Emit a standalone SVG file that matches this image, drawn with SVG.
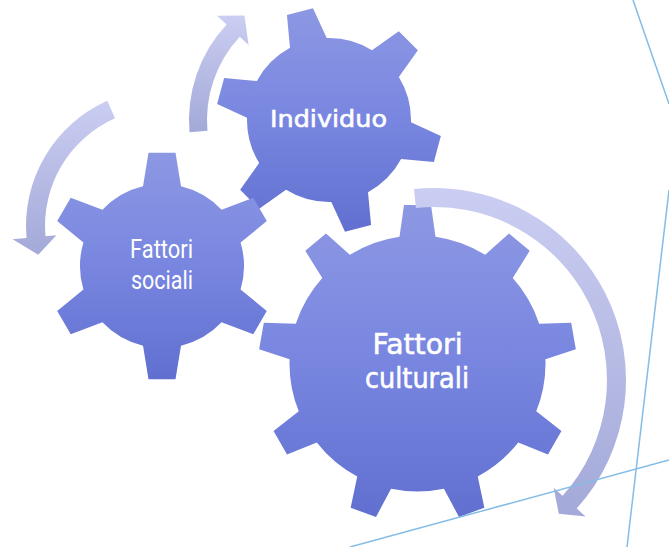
<svg xmlns="http://www.w3.org/2000/svg" width="669" height="547" viewBox="0 0 669 547">
  <defs>
    <linearGradient id="gearFill" x1="0" y1="0" x2="0" y2="1">
      <stop offset="0" stop-color="#8d98e3"/>
      <stop offset="0.5" stop-color="#7886e0"/>
      <stop offset="1" stop-color="#6170d0"/>
    </linearGradient>
    <linearGradient id="arrowFill" x1="0" y1="0" x2="0" y2="1">
      <stop offset="0" stop-color="#cbcef2"/>
      <stop offset="1" stop-color="#a3a9d8"/>
    </linearGradient>
  </defs>
  <style>
    .gear { fill: url(#gearFill); }
    .arrow { fill: url(#arrowFill); }
    .deco { stroke: #84bce6; stroke-width: 1.5; fill: none; }
    .comic { fill: #ffffff; stroke: #ffffff; stroke-width: 0.6; font-family: "DejaVu Sans", "Liberation Sans", sans-serif; }
    .narrow { fill: #ffffff; font-family: Roboto, "Liberation Sans", sans-serif; font-size: 25px; }
  </style>

  <!-- gear: Individuo (6 teeth) -->
  <g id="gear-individuo">
    <path class="gear" d="M 410.97,122.29 L 440.86,136.00 L 433.88,162.07 L 401.12,159.00 A 82 82 0 0 1 368.00,192.13 L 371.07,224.88 L 345.00,231.86 L 331.29,201.97 A 82 82 0 0 1 286.03,189.84 L 259.21,208.87 L 240.13,189.79 L 259.16,162.97 A 82 82 0 0 1 247.03,117.71 L 217.14,104.00 L 224.12,77.93 L 256.87,81.00 A 82 82 0 0 1 290.00,47.87 L 286.93,15.12 L 313.00,8.14 L 326.71,38.03 A 82 82 0 0 1 371.97,50.16 L 398.79,31.13 L 417.87,50.21 L 398.84,77.03 A 82 82 0 0 1 410.97,122.29 Z"/>
    <text class="comic" x="270" y="127" font-size="23" textLength="117" lengthAdjust="spacingAndGlyphs">Individuo</text>
  </g>

  <!-- gear: Fattori sociali (6 teeth) -->
  <g id="gear-sociali">
    <path class="gear" d="M 143.0,186.23 L 148.5,152.80 L 175.5,152.80 L 181.0,186.23 A 82 82 0 0 1 221.58,209.66 L 253.28,197.71 L 266.78,221.10 L 240.58,242.57 A 82 82 0 0 1 240.58,289.43 L 266.78,310.90 L 253.28,334.29 L 221.58,322.34 A 82 82 0 0 1 181.0,345.77 L 175.5,379.20 L 148.5,379.20 L 143.0,345.77 A 82 82 0 0 1 102.42,322.34 L 70.72,334.29 L 57.22,310.90 L 83.42,289.43 A 82 82 0 0 1 83.42,242.57 L 57.22,221.10 L 70.72,197.71 L 102.42,209.66 A 82 82 0 0 1 143.0,186.23 Z"/>
    <text class="narrow" x="130" y="258" textLength="63" lengthAdjust="spacingAndGlyphs">Fattori</text>
    <text class="narrow" x="131" y="289" textLength="62" lengthAdjust="spacingAndGlyphs">sociali</text>
  </g>

  <!-- gear: Fattori culturali (9 teeth) -->
  <g id="gear-culturali">
    <path class="gear" d="M 399.5,236.77 L 404.0,205.07 L 431.0,205.07 L 435.5,236.77 A 128 128 0 0 1 485.17,254.85 L 508.99,233.46 L 529.68,250.82 L 512.75,278.0 A 128 128 0 0 1 539.18,323.77 L 571.18,322.69 L 575.86,349.29 L 545.43,359.22 A 128 128 0 0 1 536.25,411.28 L 561.45,431.02 L 547.95,454.41 L 518.25,442.45 A 128 128 0 0 1 477.76,476.43 L 484.37,507.75 L 459.0,516.99 L 443.93,488.74 A 128 128 0 0 1 391.07,488.74 L 376.0,516.99 L 350.63,507.75 L 357.24,476.43 A 128 128 0 0 1 316.75,442.45 L 287.05,454.41 L 273.55,431.02 L 298.75,411.28 A 128 128 0 0 1 289.57,359.22 L 259.14,349.29 L 263.82,322.69 L 295.82,323.77 A 128 128 0 0 1 322.25,278.0 L 305.32,250.82 L 326.01,233.46 L 349.83,254.85 A 128 128 0 0 1 399.5,236.77 Z"/>
    <text class="comic" x="372.5" y="354" font-size="28" textLength="90" lengthAdjust="spacingAndGlyphs">Fattori</text>
    <text class="comic" x="365" y="388" font-size="28" textLength="104" lengthAdjust="spacingAndGlyphs">culturali</text>
  </g>

  <!-- curved rotation arrows -->
  <g id="connectors">
    <path class="arrow" d="M 189.53,132.20 A 140 140 0 0 1 226.61,24.52 L 217.10,15.65 L 244.5,15.5 L 248.55,44.98 L 239.78,36.80 A 122 122 0 0 0 207.46,130.63 Z"/>
    <path class="arrow" d="M 107.28,100.84 A 137 137 0 0 0 26.52,237.94 L 12.58,239.16 L 38.28,254.79 L 56.41,235.33 L 45.45,236.28 A 118 118 0 0 1 115.0,118.20 Z"/>
    <path class="arrow" d="M 413.93,189.05 A 192 192 0 0 1 576.68,508.47 L 585.60,516.50 L 558.81,513.84 L 553.65,487.73 L 562.56,495.76 A 173 173 0 0 0 415.92,207.95 Z"/>
  </g>

  <!-- thin page-corner lines -->
  <g id="frame-lines">
    <line class="deco" x1="633" y1="0" x2="669" y2="104"/>
    <line class="deco" x1="669" y1="190" x2="627" y2="547"/>
    <line class="deco" x1="350" y1="547" x2="669" y2="460"/>
  </g>
</svg>
